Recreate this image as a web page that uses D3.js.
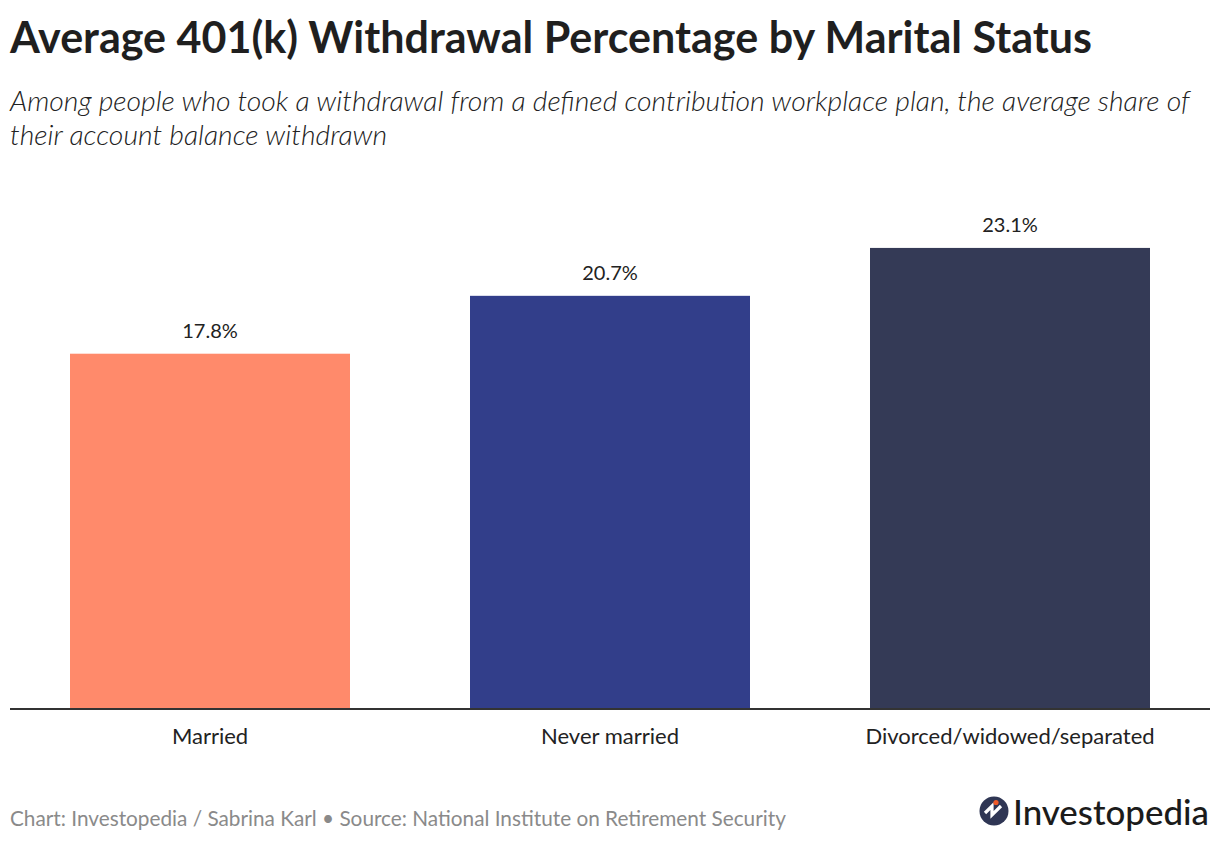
<!DOCTYPE html>
<html>
<head>
<meta charset="utf-8">
<script src="https://cdn.jsdelivr.net/npm/d3@7"></script>
<style>
  html, body { margin: 0; padding: 0; background: #fff; }
  body { width: 1220px; height: 842px; overflow: hidden; }
  text { font-family: Lato, "Noto Sans", sans-serif; }
</style>
</head>
<body>
<script>
// chart data
const categories = ["Married", "Never married", "Divorced/widowed/separated"];
const values = [17.8, 20.7, 23.1];
const valueLabels = ["17.8%", "20.7%", "23.1%"];
const barColors = ["#FF8A6B", "#323E8A", "#343A56"];

const W = 1220, H = 842;
const margin = {left: 10, right: 10, baseline: 709};

const svg = d3.select("body")
  .append("svg")
  .attr("width", W)
  .attr("height", H);

// shrink/grow a text node so it spans the wanted width
const fitWidth = (sel, target) => {
  let fs = parseFloat(sel.attr("font-size"));
  let len = sel.node().getComputedTextLength();
  sel.attr("font-size", (fs * target / len).toFixed(2));
};

// title + subtitle
let title = svg.append("text")
  .attr("x", 10).attr("y", 53)
  .attr("font-size", 40)
  .attr("font-weight", 700)
  .attr("fill", "#1f1f1f")
  .text("Average 401(k) Withdrawal Percentage by Marital Status");
fitWidth(title, 1082);

let sub1 = svg.append("text")
  .attr("x", 10).attr("y", 111)
  .attr("font-size", 25)
  .attr("font-style", "italic")
  .attr("font-weight", 300)
  .attr("fill", "#222")
  .text("Among people who took a withdrawal from a defined contribution workplace plan, the average share of");
fitWidth(sub1, 1180);
svg.append("text")
  .attr("x", 10).attr("y", 145)
  .attr("font-size", sub1.attr("font-size"))
  .attr("font-style", "italic")
  .attr("font-weight", 300)
  .attr("fill", "#222")
  .text("their account balance withdrawn");

// scales
let x = d3.scaleBand()
  .domain(categories)
  .range([margin.left, W - margin.right])
  .paddingInner(0.3)
  .paddingOuter(0.15);

let y = d3.scaleLinear()
  .domain([0, 25])
  .range([margin.baseline, margin.baseline - 499]);

// bars
svg.append("g")
  .selectAll("rect")
  .data(values)
  .enter()
  .append("rect")
  .attr("x", (d, i) => x(categories[i]))
  .attr("y", d => y(d))
  .attr("width", x.bandwidth())
  .attr("height", d => y(0) - y(d))
  .attr("fill", (d, i) => barColors[i]);

// value labels
svg.append("g")
  .selectAll("text")
  .data(values)
  .enter()
  .append("text")
  .attr("x", (d, i) => x(categories[i]) + x.bandwidth() / 2)
  .attr("y", d => y(d) - 16)
  .attr("text-anchor", "middle")
  .attr("font-size", 20)
  .attr("fill", "#222")
  .text((d, i) => valueLabels[i]);

// x axis
let xAxis = svg.append("g")
  .attr("transform", "translate(0," + margin.baseline + ")")
  .call(d3.axisBottom(x).tickSize(0).tickPadding(19));
xAxis.select(".domain").attr("stroke", "#333").attr("stroke-width", 2)
  .attr("d", "M" + margin.left + ",0H" + (W - margin.right));
xAxis.selectAll(".tick text")
  .attr("font-size", 22)
  .attr("font-family", "Lato, 'Noto Sans', sans-serif")
  .attr("fill", "#222");

// footer
let foot = svg.append("text")
  .attr("x", 10).attr("y", 826)
  .attr("font-size", 20)
  .attr("fill", "#8a8a8a")
  .text("Chart: Investopedia / Sabrina Karl \u2022 Source: National Institute on Retirement Security");
fitWidth(foot, 776);

// logo
let logo = svg.append("g").attr("transform", "translate(994,811)");
logo.append("circle").attr("r", 14.5).attr("fill", "#2f3654");
logo.append("path")
  .attr("d", "M-9,2 L-2,-5 L-2,4 L7,-5")
  .attr("fill", "none")
  .attr("stroke", "#fff")
  .attr("stroke-width", 3.2)
  .attr("stroke-linejoin", "miter");
logo.append("circle").attr("cx", 2).attr("cy", -8.5).attr("r", 2.6).attr("fill", "#f05a28");
let brand = svg.append("text")
  .attr("x", 1013).attr("y", 825)
  .attr("font-size", 36)
  .attr("font-weight", 500)
  .attr("fill", "#1b1b1b")
  .text("Investopedia");
fitWidth(brand, 196);
</script>
</body>
</html>
